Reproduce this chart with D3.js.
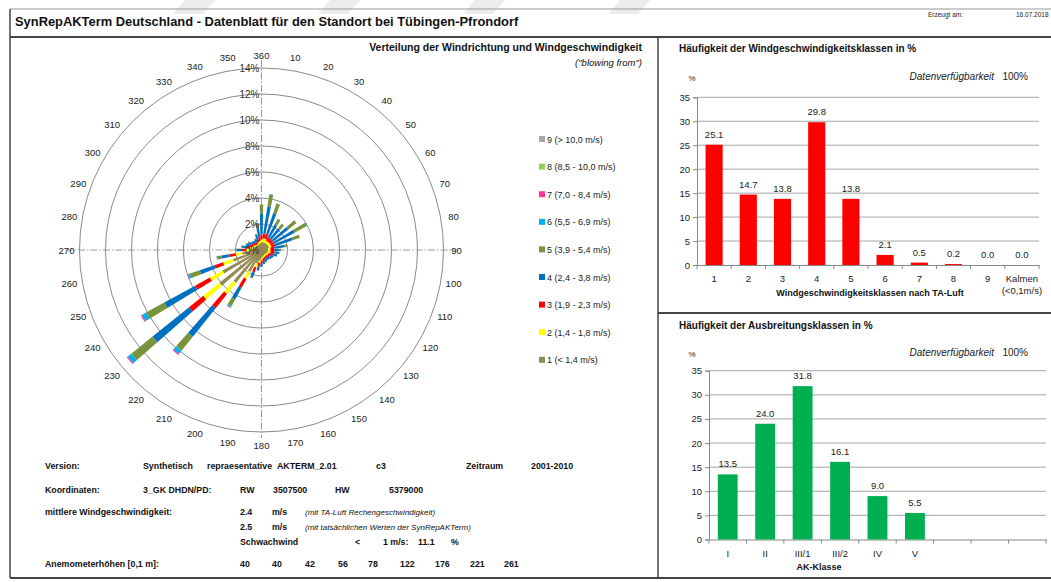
<!DOCTYPE html>
<html><head><meta charset="utf-8">
<script src="https://cdn.jsdelivr.net/npm/d3@7"></script>
<style>
body{margin:0;background:#fff;}
svg{display:block;font-family:"Liberation Sans",Arial,sans-serif;}
</style></head>
<body>
<script>
// ---------- DATA ----------
const directions = [10,20,30,40,50,60,70,80,90,100,110,120,130,140,150,160,170,180,190,200,210,220,230,240,250,260,270,280,290,300,310,320,330,340,350,360];
// wind speed class shares (%) per direction
const cls1 = [0.6,0.6,0.6,0.6,0.6,0.6,0.6,0.5,0.5,0.5,0.5,0.45,0.45,0.4,0.4,0.45,0.5,0.6,0.8,1.1,1.9,3.2,4.1,3.4,2.3,1.5,0.9,0.7,0.6,0.55,0.5,0.45,0.45,0.5,0.5,0.6];
const cls2 = [0.3,0.3,0.2,0.2,0.2,0.2,0.2,0.2,0.2,0.2,0.2,0.15,0.15,0.15,0.15,0.15,0.15,0.2,0.2,0.3,0.6,1.1,1.6,1.1,0.8,0.5,0.3,0.2,0.15,0.15,0.1,0.1,0.1,0.15,0.2,0.2];
const cls3 = [0.4,0.4,0.3,0.3,0.3,0.3,0.3,0.3,0.3,0.3,0.25,0.2,0.2,0.15,0.15,0.2,0.2,0.25,0.3,0.4,0.8,1.4,1.4,1.3,0.7,0.5,0.3,0.25,0.2,0.2,0.15,0.15,0.15,0.2,0.3,0.4];
const cls4 = [2.1,1.7,1.1,1.0,1.5,1.8,1.4,0.8,0.4,0.35,0.3,0.25,0.2,0.2,0.2,0.2,0.25,0.25,0.3,0.4,1.0,2.8,3.6,2.7,1.2,0.6,0.4,0.35,0.3,0.25,0.2,0.2,0.25,0.35,0.7,1.6];
const cls5 = [0.9,0.75,0.5,0.45,0.8,1.05,0.6,0.2,0.1,0.05,0,0,0,0,0,0,0,0,0,0.1,0.6,1.4,2.1,1.6,0.8,0.35,0.1,0.1,0.05,0.05,0.05,0,0.05,0.1,0.4,0.7];
const cls6 = [0.05,0.02,0,0,0,0.05,0,0,0,0,0,0,0,0,0,0,0,0,0,0,0.1,0.3,0.35,0.35,0.15,0.05,0,0,0,0,0,0,0,0,0,0];
const cls7 = [0,0,0,0,0,0,0,0,0,0,0,0,0,0,0,0,0,0,0,0,0.05,0.1,0.1,0.1,0.05,0,0,0,0,0,0,0,0,0,0,0];
const cls8 = [0,0,0,0,0,0,0,0,0,0,0,0,0,0,0,0,0,0,0,0,0,0,0,0,0,0,0,0,0,0,0,0,0,0,0,0];
const cls9 = [0,0,0,0,0,0,0,0,0,0,0,0,0,0,0,0,0,0,0,0,0,0,0,0,0,0,0,0,0,0,0,0,0,0,0,0];
const classSeries = [cls1,cls2,cls3,cls4,cls5,cls6,cls7,cls8,cls9];
const classLabels = ["1 (< 1,4 m/s)","2 (1,4 - 1,8 m/s)","3 (1,9 - 2,3 m/s)","4 (2,4 - 3,8 m/s)","5 (3,9 - 5,4 m/s)","6 (5,5 - 6,9 m/s)","7 (7,0 - 8,4 m/s)","8 (8,5 - 10,0 m/s)","9 (> 10,0 m/s)"];
const classColors = ["#948A54","#FFFF00","#FF0000","#0070C0","#77933C","#00B0F0","#FF3399","#92D050","#A6A6A6"];
const roseRings = [2,4,6,8,10,12,14];

const speedCats = ["1","2","3","4","5","6","7","8","9","Kalmen"];
const speedVals = [25.1,14.7,13.8,29.8,13.8,2.1,0.5,0.2,0.0,0.0];
const akCats = ["I","II","III/1","III/2","IV","V","","",""];
const akVals = [13.5,24.0,31.8,16.1,9.0,5.5,null,null,null];
const yTicks = [0,5,10,15,20,25,30,35];

// ---------- SVG ----------
const W=1051,H=582;
const svg=d3.select("body").append("svg").attr("width",W).attr("height",H);

// faint watermark stripes at top
const wm=[[185,215],[330,360],[475,505],[620,650]];
svg.selectAll("path.wm").data(wm).join("path")
  .attr("d",d=>`M${d[0]},0 L${d[1]},0 L${d[1]-12},14 L${d[0]-12},14 Z`)
  .attr("fill","#ececec");

// frame
const fr=svg.append("g").attr("stroke","#444").attr("fill","none");
fr.append("line").attr("x1",10).attr("y1",9).attr("x2",W).attr("y2",9).attr("stroke","#999").attr("stroke-width",1);
fr.append("line").attr("x1",10).attr("y1",9).attr("x2",10).attr("y2",578).attr("stroke-width",1.5);
fr.append("line").attr("x1",10).attr("y1",37).attr("x2",W).attr("y2",37).attr("stroke-width",2);
fr.append("line").attr("x1",658).attr("y1",37).attr("x2",658).attr("y2",578).attr("stroke-width",1.5);
fr.append("line").attr("x1",658).attr("y1",313).attr("x2",W).attr("y2",313).attr("stroke-width",2);
fr.append("line").attr("x1",10).attr("y1",578).attr("x2",W).attr("y2",578).attr("stroke-width",2);

svg.append("text").attr("x",15).attr("y",26).attr("font-size",12.9).attr("font-weight","bold").attr("fill","#111")
  .text("SynRepAKTerm Deutschland - Datenblatt für den Standort bei Tübingen-Pfrondorf");
svg.append("text").attr("x",928).attr("y",17).attr("font-size",6.5).attr("fill","#222").text("Erzeugt am:");
svg.append("text").attr("x",1016).attr("y",17).attr("font-size",6.5).attr("fill","#222").text("16.07.2018");

// ---------- WIND ROSE ----------
const cx=261.5, cy=250;
const r=d3.scaleLinear().domain([0,14]).range([0,182]);
const rose=svg.append("g").attr("transform",`translate(${cx},${cy})`);
rose.selectAll("circle.ring").data(roseRings).join("circle")
  .attr("r",d=>r(d)).attr("fill","none").attr("stroke","#8a8a8a").attr("stroke-width",1);
const dash="7,2,1.5,2";
rose.append("line").attr("x1",0).attr("y1",-r(14)-8).attr("x2",0).attr("y2",r(14)+6).attr("stroke","#999").attr("stroke-dasharray",dash);
rose.append("line").attr("x1",-r(14)-14).attr("y1",0).attr("x2",r(14)+14).attr("y2",0).attr("stroke","#999").attr("stroke-dasharray",dash);

// stacked radial bars (slightly tapered toward the centre)
const stacks=directions.map((dir,i)=>{
  let acc=0; const segs=[];
  classSeries.forEach((s,k)=>{ const v=s[i]; if(v>0){segs.push({k,r0:acc,r1:acc+v}); acc+=v;} });
  return {dir,segs};
});
const halfW=p=>0.8+p*0.021;
const segPath=d=>{
  const a=r(d.r0), b=r(d.r1);
  return `M${-halfW(a)},${-a} L${-halfW(b)},${-b} L${halfW(b)},${-b} L${halfW(a)},${-a} Z`;
};
const bars=rose.selectAll("g.dir").data(stacks).join("g").attr("transform",d=>`rotate(${d.dir})`);
bars.selectAll("path").data(d=>d.segs).join("path")
  .attr("d",segPath).attr("fill",d=>classColors[d.k]);

// ring labels
rose.selectAll("text.rl").data([0].concat(roseRings)).join("text")
  .attr("x",-2).attr("y",d=>-r(d)+4).attr("text-anchor","end")
  .attr("font-size",10).attr("fill","#333").text(d=>d+"%");

// direction labels
const lblDirs=[360].concat(directions.slice(0,35));
rose.selectAll("text.dl").data(lblDirs).join("text")
  .attr("x",d=>Math.sin(d*Math.PI/180)*195)
  .attr("y",d=>-Math.cos(d*Math.PI/180)*195+3.5)
  .attr("text-anchor","middle").attr("font-size",9.5).attr("fill","#222").text(d=>d);

svg.append("text").attr("x",642).attr("y",51).attr("text-anchor","end").attr("font-size",10.5).attr("font-weight","bold").attr("fill","#111")
  .text("Verteilung der Windrichtung und Windgeschwindigkeit");
svg.append("text").attr("x",642).attr("y",66).attr("text-anchor","end").attr("font-size",9.5).attr("font-style","italic").attr("fill","#111")
  .text('("blowing from")');

// legend
const legOrder=[8,7,6,5,4,3,2,1,0];
const leg=svg.selectAll("g.leg").data(legOrder).join("g")
  .attr("transform",(d,i)=>`translate(539,${140+i*27.6})`);
leg.append("rect").attr("x",0).attr("y",-4).attr("width",6).attr("height",6).attr("fill",d=>classColors[d]);
leg.append("text").attr("x",8).attr("y",2.5).attr("font-size",9).attr("fill","#222").text(d=>classLabels[d]);

// ---------- INFO TEXT ----------
const info=[
  [45,469,"Version:"],[143,469,"Synthetisch"],[207,469,"repraesentative"],[277,469,"AKTERM_2.01"],[376,469,"c3"],[466,469,"Zeitraum"],[531,469,"2001-2010"],
  [45,493,"Koordinaten:"],[143,493,"3_GK DHDN/PD:"],[240,493,"RW"],[273,493,"3507500"],[335,493,"HW"],[389,493,"5379000"],
  [45,515,"mittlere Windgeschwindigkeit:"],[240,515,"2.4"],[272,515,"m/s"],
  [240,530,"2.5"],[272,530,"m/s"],
  [240,545,"Schwachwind"],[355,545,"<"],[383,545,"1 m/s:"],[418,545,"11.1"],[451,545,"%"],
  [45,567,"Anemometerhöhen [0,1 m]:"]
];
svg.selectAll("text.info").data(info).join("text").attr("x",d=>d[0]).attr("y",d=>d[1])
  .attr("font-size",8.8).attr("font-weight","bold").attr("fill","#111").text(d=>d[2]);
const notes=[[305,515,"(mit TA-Luft Rechengeschwindigkeit)"],[305,530,"(mit tatsächlichen Werten der SynRepAKTerm)"]];
svg.selectAll("text.note").data(notes).join("text").attr("x",d=>d[0]).attr("y",d=>d[1])
  .attr("font-size",8).attr("font-style","italic").attr("fill","#111").text(d=>d[2]);
const anemo=["40","40","42","56","78","122","176","221","261"];
const anemoX=[240,272,305,338,368,400,435,470,504];
svg.selectAll("text.an").data(anemo).join("text").attr("x",(d,i)=>anemoX[i]).attr("y",567)
  .attr("font-size",8.8).attr("font-weight","bold").attr("fill","#111").text(d=>d);

// ---------- BAR CHARTS ----------
function barChart(opt){
  const g=svg.append("g");
  const x=d3.scaleBand().domain(d3.range(opt.cats.length)).range([opt.x0,opt.x1]).paddingInner(0).paddingOuter(0);
  const y=d3.scaleLinear().domain([0,35]).range([opt.y0,opt.y1]);
  g.append("text").attr("x",679).attr("y",opt.titleY).attr("font-size",10).attr("font-weight","bold").attr("fill","#111").text(opt.title);
  g.append("text").attr("x",1028).attr("y",opt.dispY).attr("text-anchor","end").attr("font-size",10).attr("fill","#222")
    .html('<tspan font-style="italic">Datenverfügbarkeit</tspan>\u00a0\u00a0\u00a0100%');
  g.append("text").attr("x",692).attr("y",opt.dispY+1).attr("text-anchor","middle").attr("font-size",8).attr("fill","#222").text("%");
  // grid
  g.selectAll("line.grid").data(yTicks.filter(t=>t>0)).join("line")
    .attr("x1",opt.x0).attr("x2",opt.x1).attr("y1",d=>y(d)).attr("y2",d=>y(d)).attr("stroke","#a6a6a6");
  // y axis
  const ya=g.append("g").attr("transform",`translate(${opt.x0},0)`).call(d3.axisLeft(y).tickValues(yTicks).tickSize(4).tickPadding(3));
  ya.select(".domain").attr("stroke","#888");
  ya.selectAll(".tick line").attr("stroke","#888");
  ya.selectAll("text").attr("font-size",9.5).attr("fill","#222").attr("font-family","Liberation Sans, Arial, sans-serif");
  // x axis
  const xa=g.append("g").attr("transform",`translate(0,${opt.y0})`).call(d3.axisBottom(x).tickSize(0).tickFormat(""));
  xa.select(".domain").attr("stroke","#888");
  g.selectAll("line.xt").data(d3.range(opt.cats.length+1)).join("line")
    .attr("x1",d=>opt.x0+d*x.bandwidth()).attr("x2",d=>opt.x0+d*x.bandwidth())
    .attr("y1",opt.y0).attr("y2",opt.y0+4).attr("stroke","#888");
  g.selectAll("text.xl").data(opt.cats).join("text")
    .attr("x",(d,i)=>x(i)+x.bandwidth()/2).attr("y",opt.y0+17).attr("text-anchor","middle")
    .attr("font-size",9.5).attr("fill","#222").text(d=>d);
  if(opt.extra) g.append("text").attr("x",x(opt.cats.length-1)+x.bandwidth()/2).attr("y",opt.y0+29).attr("text-anchor","middle")
    .attr("font-size",9.5).attr("fill","#222").text(opt.extra);
  g.append("text").attr("x",opt.axX).attr("y",opt.axY).attr("text-anchor","middle").attr("font-size",9).attr("font-weight","bold").attr("fill","#111").text(opt.axTitle);
  const bwid=x.bandwidth()*opt.barFrac;
  const data=opt.vals.map((v,i)=>({v,i})).filter(d=>d.v!==null);
  g.selectAll("rect.bar").data(data).join("rect")
    .attr("x",d=>x(d.i)+(x.bandwidth()-bwid)/2).attr("width",bwid)
    .attr("y",d=>y(d.v)).attr("height",d=>opt.y0-y(d.v)).attr("fill",opt.color);
  g.selectAll("text.vl").data(data).join("text")
    .attr("x",d=>x(d.i)+x.bandwidth()/2).attr("y",d=>y(d.v)-7).attr("text-anchor","middle")
    .attr("font-size",9.5).attr("fill","#222").text(d=>d.v.toFixed(1));
}
barChart({cats:speedCats,vals:speedVals,x0:697,x1:1039,y0:265,y1:97.3,color:"#FF0000",barFrac:0.5,
  title:"Häufigkeit der Windgeschwindigkeitsklassen in %",titleY:52,dispY:80,extra:"(<0,1m/s)",
  axTitle:"Windgeschwindigkeitsklassen nach TA-Luft",axX:870,axY:296});
barChart({cats:akCats,vals:akVals,x0:709,x1:1046,y0:539.5,y1:370.7,color:"#00B050",barFrac:0.53,
  title:"Häufigkeit der Ausbreitungsklassen in %",titleY:329,dispY:356,extra:null,
  axTitle:"AK-Klasse",axX:819,axY:570});
</script>
</body></html>
